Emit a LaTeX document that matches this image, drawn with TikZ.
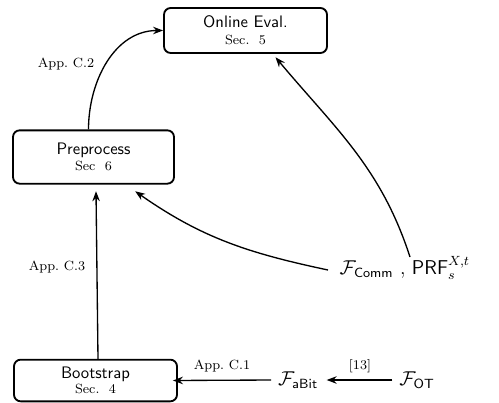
\documentclass[tikz,border=0pt]{standalone}
\usetikzlibrary{arrows.meta}
\begin{document}
\begin{tikzpicture}[x=0.6pt,y=-0.6pt,
  box/.style={draw,line width=1.1pt,rounded corners=4pt,align=center,font=\sffamily,inner sep=2pt},
  arr/.style={-{Stealth[length=6pt,width=4.5pt]},line width=0.8pt},
  lab/.style={font=\footnotesize,inner sep=1pt},
  func/.style={font=\large,inner sep=2pt}]
\useasboundingbox (0,0) rectangle (499,402);
\node[box,minimum width=97.8pt,minimum height=27pt] (online) at (245.5,30.5)
  {Online Eval.\\[-2pt]{\rmfamily\footnotesize Sec.~~5}};
\node[box,minimum width=96.6pt,minimum height=32pt] (pre) at (93.5,157)
  {Preprocess\\[-2pt]{\rmfamily\footnotesize Sec~~6}};
\node[box,minimum width=97.8pt,minimum height=25pt] (boot) at (95.5,380.5)
  {Bootstrap\\[-3pt]{\rmfamily\footnotesize Sec.~~4}};
\node[func] (abit) at (298,380) {$\mathcal{F}_{\mathsf{aBit}}$};
\node[func] (ot) at (417,380) {$\mathcal{F}_{\mathsf{OT}}$};
\node[func,anchor=west] (comm) at (336,268) {$\mathcal{F}_{\mathsf{Comm}}$~,~$\mathsf{PRF}_s^{X,t}$};
\node[lab] (l2) at (66,64) {App.~C.2};
\node[lab] (l3) at (57,267) {App.~C.3};
\node[lab] (l1) at (222,366) {App.~C.1};
\node[lab] (l13) at (360,366) {[13]};
\draw[arr] ([xshift=-3pt]pre.north) to[out=90,in=180] (online.west);
\draw[arr] ([xshift=1.5pt]boot.north) -- ([xshift=1.5pt,yshift=-4pt]pre.south);
\draw[arr] ([xshift=-2pt]abit.west) -- ([xshift=-3pt]boot.east);
\draw[arr] ([xshift=-2pt]ot.west) -- ([xshift=3pt]abit.east);
\coordinate (c1) at (328,270);
\coordinate (c2) at (410,257);
\draw[arr] (c1) to[out=168,in=-35] ([xshift=25pt,yshift=-4pt]pre.south);
\draw[arr] (c2) to[out=108,in=-50] ([xshift=18pt,yshift=-2pt]online.south);
\end{tikzpicture}
\end{document}
